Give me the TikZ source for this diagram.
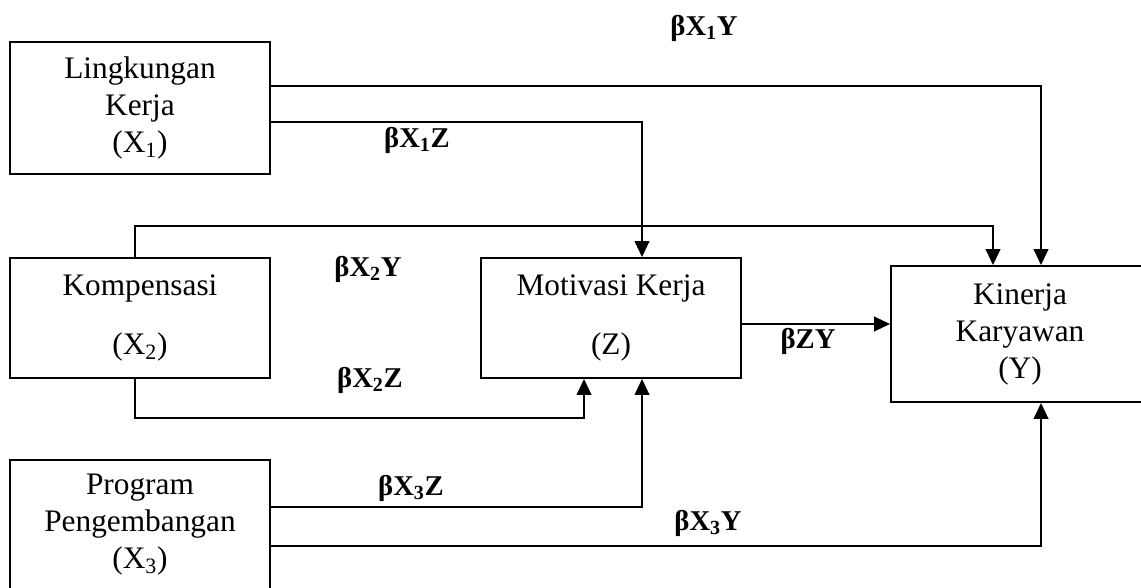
\documentclass[tikz,border=0pt]{standalone}
\usepackage{fontspec}
\setmainfont{Liberation Serif}
\usetikzlibrary{arrows.meta}
\begin{document}
\begin{tikzpicture}[x=0.75pt,y=-0.75pt,
  boxnode/.style={draw,line width=1.4pt,align=center,inner sep=0pt,
    font=\fontsize{23.5}{27.75}\selectfont},
  coef/.style={font=\fontsize{21.5}{24}\selectfont\bfseries,inner sep=0pt},
  arr/.style={line width=1.4pt,-{Triangle[width=11pt,length=12pt]}}]
\useasboundingbox (0,0) rectangle (1141,587);

% variable boxes
\node[boxnode,minimum width=195pt,minimum height=99pt] (X1) at (140,108)
  {Lingkungan\\Kerja\\(X\textsubscript{1})};
\node[boxnode,minimum width=195pt,minimum height=90pt] (X2) at (140,318)
  {Kompensasi\\[16.5pt](X\textsubscript{2})};
\node[boxnode,minimum width=195pt,minimum height=97.5pt] (X3) at (140,525)
  {Program\\Pengembangan\\(X\textsubscript{3})};
\node[boxnode,minimum width=195pt,minimum height=90pt] (Z) at (611,318)
  {Motivasi Kerja\\[16.5pt](Z)};
\node[boxnode,minimum width=193.5pt,minimum height=102pt] (Y) at (1020,334)
  {Kinerja\\Karyawan\\(Y)};

% paths between the variables
\draw[arr] (X1.east |- 0,86) -| (Y.north -| 1041,0);
\draw[arr] (X1.east |- 0,122) -| (Z.north -| 642,0);
\draw[arr] (X2.north -| 135,0) -- ++(0,-31) -| (Y.north -| 993,0);
\draw[arr] (X2.south -| 135,0) -- ++(0,39) -| (Z.south -| 584,0);
\draw[arr] (X3.east |- 0,507) -| (Z.south -| 642,0);
\draw[arr] (X3.east |- 0,546) -| (Y.south -| 1041,0);
\draw[arr] (Z.east |- 0,324) -- (Y.west |- 0,324);

% path coefficients
\node[coef] (c1) at (704,28) {βX\textsubscript{1}Y};
\node[coef] (c2) at (417,140) {βX\textsubscript{1}Z};
\node[coef] (c3) at (368,269) {βX\textsubscript{2}Y};
\node[coef] (c4) at (370,380) {βX\textsubscript{2}Z};
\node[coef] (c5) at (808,341) {βZY};
\node[coef] (c6) at (411,488) {βX\textsubscript{3}Z};
\node[coef] (c7) at (708,523) {βX\textsubscript{3}Y};
\end{tikzpicture}
\end{document}
